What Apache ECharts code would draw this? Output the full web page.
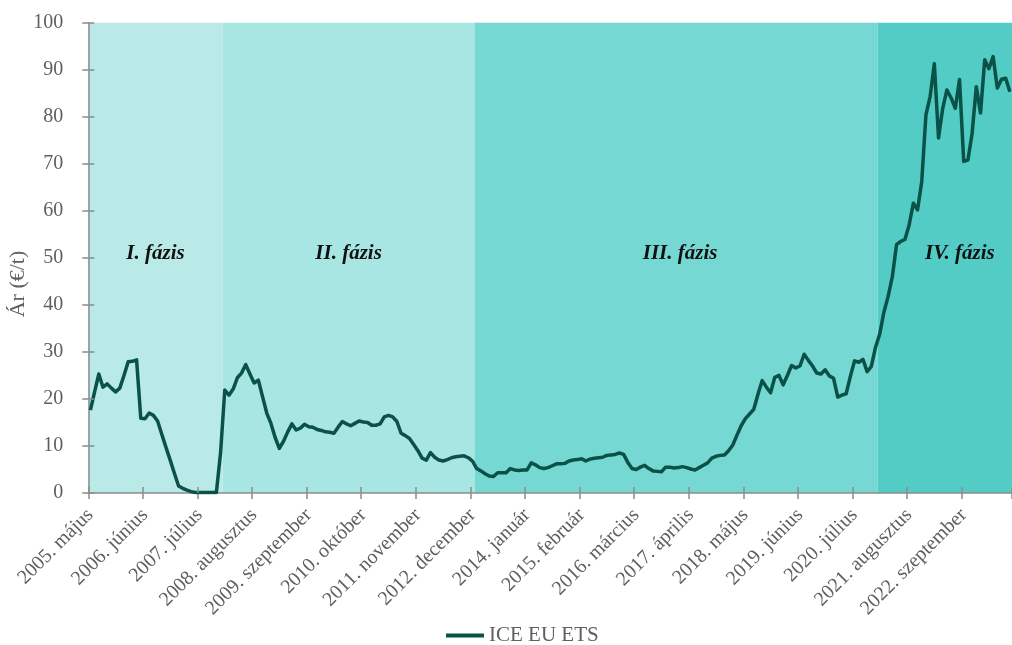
<!DOCTYPE html>
<html>
<head>
<meta charset="utf-8">
<script src="https://cdn.jsdelivr.net/npm/echarts@6/dist/echarts.min.js"></script>
<style>
html,body{margin:0;padding:0;background:#fff;}
#chart{width:1012px;height:645px;}
</style>
</head>
<body>
<div id="chart"></div>
<script>
// ---- data ----
const monthNames = ['január','február','március','április','május','június','július','augusztus','szeptember','október','november','december'];
const firstYear = 2005;
const firstMonthIndex = 4; // május
const seriesName = 'ICE EU ETS';
const yAxisTitle = 'Ár (€/t)';
const yTicks = [0, 10, 20, 30, 40, 50, 60, 70, 80, 90, 100];

const phaseNames = ['I. fázis', 'II. fázis', 'III. fázis', 'IV. fázis'];
const phaseStarts = ['2005. május', '2008. január', '2013. január', '2021. január'];
const phaseColors = ['#b9eae7', '#a8e6e3', '#76d8d3', '#52ccc5'];

// monthly prices, €/t
const phase1Prices = [17.6, 21.5, 25.3, 22.5, 23.2, 22.3, 21.5, 22.3, 25.0, 27.9,
  28.0, 28.3, 15.9, 15.8, 17.0, 16.5, 15.3, 12.5, 9.7, 7.0,
  4.2, 1.5, 1.0, 0.6, 0.3, 0.1, 0.1, 0.1, 0.1, 0.1,
  0.1, 8.5];
const phase2Prices = [21.9, 20.8, 22.1, 24.5, 25.5, 27.3, 25.3, 23.4, 24.0, 20.5,
  17.0, 14.8, 11.8, 9.5, 11.0, 13.0, 14.7, 13.4, 13.8, 14.6,
  14.1, 14.0, 13.5, 13.3, 13.0, 12.9, 12.7, 14.0, 15.2, 14.7,
  14.3, 14.8, 15.3, 15.1, 15.0, 14.4, 14.4, 14.7, 16.2, 16.5,
  16.2, 15.2, 12.7, 12.2, 11.6, 10.3, 9.0, 7.4, 7.0, 8.6,
  7.6, 7.0, 6.8, 7.1, 7.5, 7.7, 7.8, 7.9, 7.5, 6.8];
const phase3Prices = [5.2, 4.7, 4.1, 3.6, 3.5, 4.3, 4.3, 4.3, 5.2, 4.9,
  4.8, 4.9, 4.9, 6.4, 6.0, 5.4, 5.2, 5.4, 5.8, 6.2,
  6.2, 6.3, 6.8, 7.0, 7.1, 7.3, 6.8, 7.2, 7.4, 7.5,
  7.6, 8.0, 8.1, 8.2, 8.5, 8.2, 6.5, 5.2, 5.0, 5.5,
  5.9, 5.2, 4.7, 4.6, 4.5, 5.5, 5.5, 5.3, 5.4, 5.6,
  5.4, 5.1, 4.9, 5.4, 5.9, 6.4, 7.4, 7.8, 8.0, 8.1,
  9.0, 10.2, 12.3, 14.3, 15.8, 16.8, 17.8, 21.0, 23.9, 22.5,
  21.3, 24.6, 25.0, 23.0, 25.0, 27.1, 26.6, 27.0, 29.5, 28.2,
  27.0, 25.5, 25.3, 26.2, 24.9, 24.4, 20.4, 20.8, 21.1, 24.8,
  28.1, 27.8, 28.4, 25.8, 26.9, 31.0];
const phase4Prices = [33.8, 38.5, 41.8, 46.0, 52.8, 53.5, 53.9, 57.0, 61.6, 60.2,
  66.2, 80.4, 84.3, 91.3, 75.5, 81.8, 85.7, 84.0, 81.8, 87.9,
  70.5, 70.8, 76.5, 86.4, 80.8, 92.1, 90.2, 92.8, 86.1, 88.0,
  88.2, 85.3];

// ---- build ----
const prices = phase1Prices.concat(phase2Prices, phase3Prices, phase4Prices);
const categories = [];
for (let i = 0; i < prices.length; i++) {
  const m = firstMonthIndex + i;
  categories.push((firstYear + Math.floor(m / 12)) + '. ' + monthNames[m % 12]);
}
const phaseBounds = phaseStarts.map(s => categories.indexOf(s)).concat([categories.length]);

const FONT = '"Liberation Serif", "Times New Roman", serif';
const GRAY = '#5f5f5f';
const AXIS_GRAY = '#8c8c8c';

const labelOffsets = [[0, -4], [0, -4], [4, -4], [15, -4]];
const markAreaData = phaseNames.map((name, k) => [
  {
    name: name,
    xAxis: phaseBounds[k],
    itemStyle: { color: phaseColors[k], opacity: 1, borderWidth: 0 },
    label: { offset: labelOffsets[k] }
  },
  { xAxis: phaseBounds[k + 1] }
]);

const chart = echarts.init(document.getElementById('chart'), null, { renderer: 'canvas' });
chart.setOption({
  animation: false,
  backgroundColor: '#ffffff',
  textStyle: { fontFamily: FONT },
  grid: { left: 88.3, right: -2.5, top: 22.7, bottom: 152, containLabel: false },
  legend: {
    data: [seriesName],
    left: 446,
    top: 625,
    padding: 0,
    icon: 'rect',
    itemWidth: 38,
    itemHeight: 4,
    textStyle: { fontFamily: FONT, fontSize: 21, color: GRAY },
    selectedMode: false
  },
  xAxis: [
    {
      type: 'category',
      data: categories,
      boundaryGap: true,
      z: 2,
      axisLine: { show: true, lineStyle: { color: AXIS_GRAY, width: 1.5 } },
      axisTick: { show: true, inside: false, length: 6, interval: 12, lineStyle: { color: AXIS_GRAY, width: 1.5 } },
      axisLabel: { interval: 12, rotate: 45, margin: 19, fontFamily: FONT, fontSize: 20, color: GRAY },
      splitLine: { show: false }
    },
    {
      type: 'category',
      data: categories,
      boundaryGap: true,
      position: 'bottom',
      z: 4,
      axisLine: { show: false },
      axisTick: { show: true, inside: true, length: 6, interval: 12, lineStyle: { color: AXIS_GRAY, width: 1.5 } },
      axisLabel: { show: false },
      splitLine: { show: false }
    },
    {
      type: 'value',
      min: 0,
      max: categories.length,
      show: false,
      splitLine: { show: false }
    }
  ],
  yAxis: [
    {
      type: 'value',
      min: yTicks[0],
      max: yTicks[yTicks.length - 1],
      interval: yTicks[1] - yTicks[0],
      z: 2,
      axisLine: { show: true, lineStyle: { color: AXIS_GRAY, width: 1.5 } },
      axisTick: { show: true, inside: false, length: 6, lineStyle: { color: AXIS_GRAY, width: 1.5 } },
      axisLabel: { margin: 25, fontFamily: FONT, fontSize: 20, color: GRAY },
      splitLine: { show: false }
    },
    {
      type: 'value',
      min: yTicks[0],
      max: yTicks[yTicks.length - 1],
      interval: yTicks[1] - yTicks[0],
      position: 'left',
      z: 4,
      axisLine: { show: false },
      axisTick: { show: true, inside: true, length: 6, lineStyle: { color: AXIS_GRAY, width: 1.5 } },
      axisLabel: { show: false },
      splitLine: { show: false }
    }
  ],
  graphic: [
    {
      type: 'text',
      x: 18,
      y: 284,
      rotation: Math.PI / 2,
      silent: true,
      style: {
        text: yAxisTitle,
        font: '22px ' + FONT,
        fill: GRAY,
        textAlign: 'center',
        textVerticalAlign: 'middle'
      }
    }
  ],
  series: [
    {
      name: 'phases',
      type: 'line',
      xAxisIndex: 2,
      yAxisIndex: 0,
      data: [],
      z: 1,
      silent: true,
      markArea: {
        silent: true,
        label: {
          show: true,
          position: 'inside',
          fontFamily: FONT,
          fontSize: 21,
          fontWeight: 'bold',
          fontStyle: 'italic',
          color: '#111111'
        },
        emphasis: { disabled: true },
        data: markAreaData
      }
    },
    {
      name: seriesName,
      type: 'line',
      xAxisIndex: 0,
      yAxisIndex: 0,
      data: prices,
      z: 3,
      symbol: 'none',
      showSymbol: false,
      smooth: false,
      lineStyle: { color: '#0a5247', width: 3.5, join: 'round' },
      itemStyle: { color: '#0a5247' },
      emphasis: { disabled: true }
    }
  ]
});
</script>
</body>
</html>
